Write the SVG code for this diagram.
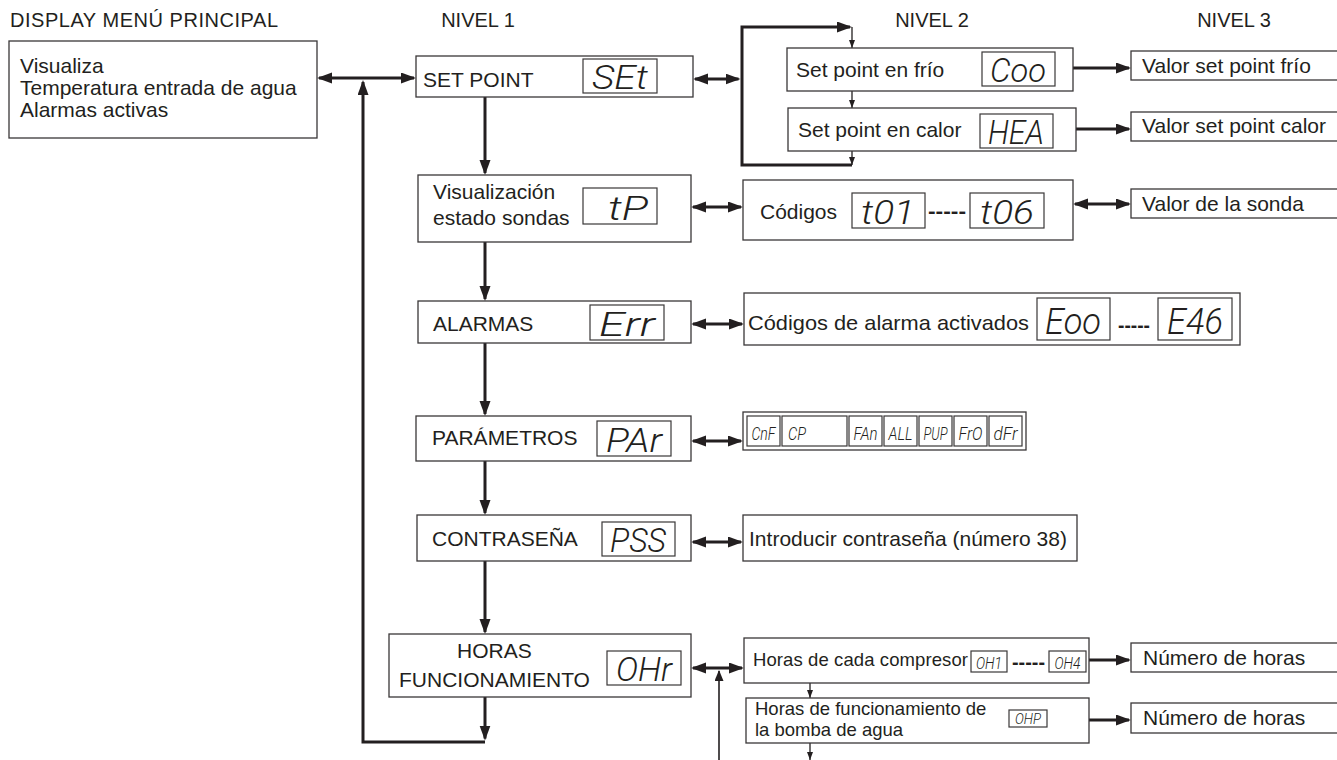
<svg xmlns="http://www.w3.org/2000/svg" width="1337" height="760" viewBox="0 0 1337 760">
<defs>
<marker id="ah" markerUnits="userSpaceOnUse" markerWidth="16" markerHeight="12" refX="13" refY="5.5" orient="auto-start-reverse"><path d="M0,0 L15,5.5 L0,11 z" fill="#231f20"/></marker>
<marker id="am" markerUnits="userSpaceOnUse" markerWidth="12" markerHeight="10" refX="10" refY="4.5" orient="auto"><path d="M0,0 L11,4.5 L0,9 z" fill="#231f20"/></marker>
<marker id="as" markerUnits="userSpaceOnUse" markerWidth="9" markerHeight="7" refX="8" refY="3" orient="auto"><path d="M0,0 L8,3 L0,6 z" fill="#231f20"/></marker>
<style>
.box{fill:#fff;stroke:#3a3738;stroke-width:1.3}
.sub{fill:none;stroke:#3a3738;stroke-width:1.2}
.t{font-family:"Liberation Sans",Arial,sans-serif;font-size:21px;fill:#231f20}
.ts{font-size:18.5px}
.h{font-size:20px}
.d{font-weight:bold}
.seg{font-family:Roboto,"DejaVu Sans",sans-serif;font-style:italic;font-weight:300;fill:#231f20;text-anchor:middle}
.c{fill:none;stroke:#231f20;stroke-width:3}
.c2{fill:none;stroke:#231f20;stroke-width:1.3}
</style>
</defs>
<rect width="1337" height="760" fill="#fff"/>

<g id="headings">
<text class="t h" x="10" y="27" textLength="268">DISPLAY MENÚ PRINCIPAL</text>
<text class="t h" x="478" y="27" text-anchor="middle">NIVEL 1</text>
<text class="t h" x="932" y="27" text-anchor="middle">NIVEL 2</text>
<text class="t h" x="1234" y="27" text-anchor="middle">NIVEL 3</text>
</g>

<g id="connectors">
<line class="c" x1="319" y1="78" x2="414" y2="78" marker-start="url(#ah)" marker-end="url(#ah)"/>
<path class="c" d="M485,742 L363,742 L363,82" marker-end="url(#ah)"/>
<path class="c" d="M485,97 V173" marker-end="url(#ah)"/>
<path class="c" d="M485,242 V299" marker-end="url(#ah)"/>
<path class="c" d="M485,343 V414" marker-end="url(#ah)"/>
<path class="c" d="M485,461 V513" marker-end="url(#ah)"/>
<path class="c" d="M485,561 V632" marker-end="url(#ah)"/>
<path class="c" d="M485,697 V738.5" marker-end="url(#ah)"/>
<line class="c" x1="695" y1="79" x2="738.5" y2="79" marker-start="url(#ah)" marker-end="url(#ah)"/>
<path class="c" d="M852,165 L742,165 L742,27 L850,27" marker-end="url(#ah)"/>
<path class="c2" d="M852,27 V48" marker-end="url(#as)"/>
<path class="c2" d="M852,91 V108" marker-end="url(#as)"/>
<path class="c2" d="M852,151 V165" marker-end="url(#as)"/>
<path class="c" d="M1073,68 H1129" marker-end="url(#ah)"/>
<path class="c" d="M1076,129 H1129" marker-end="url(#ah)"/>
<line class="c" x1="693" y1="207" x2="741" y2="207" marker-start="url(#ah)" marker-end="url(#ah)"/>
<line class="c" x1="1075" y1="204" x2="1129" y2="204" marker-start="url(#ah)" marker-end="url(#ah)"/>
<line class="c" x1="693" y1="324" x2="742" y2="324" marker-start="url(#ah)" marker-end="url(#ah)"/>
<line class="c" x1="693" y1="441" x2="741" y2="441" marker-start="url(#ah)" marker-end="url(#ah)"/>
<line class="c" x1="693" y1="542" x2="741" y2="542" marker-start="url(#ah)" marker-end="url(#ah)"/>
<line class="c" x1="693" y1="668" x2="742" y2="668" marker-start="url(#ah)" marker-end="url(#ah)"/>
<path class="c2" d="M719,760 V671" style="stroke-width:1.6" marker-end="url(#am)"/>
<path class="c" d="M1089,660 H1129" marker-end="url(#ah)"/>
<path class="c" d="M1089,720 H1129" marker-end="url(#ah)"/>
<path class="c2" d="M810,683 V698" marker-end="url(#as)"/>
<path class="c2" d="M810,743 V760" marker-end="url(#as)"/>
</g>

<g id="display">
<rect class="box" x="9" y="41" width="308" height="97"/>
<text class="t" x="20" y="73">Visualiza</text>
<text class="t" x="20" y="95">Temperatura entrada de agua</text>
<text class="t" x="20" y="117">Alarmas activas</text>
</g>

<g id="setpoint">
<rect class="box" x="416" y="56" width="277" height="41"/>
<text class="t" x="423" y="87">SET POINT</text>
<rect class="sub" x="583" y="59" width="74" height="34"/>
<text class="seg" x="620" y="89" font-size="34" textLength="56" lengthAdjust="spacingAndGlyphs">SEt</text>
</g>

<g id="frio">
<rect class="box" x="787" y="48" width="286" height="43"/>
<text class="t" x="796" y="77">Set point en frío</text>
<rect class="sub" x="982" y="52" width="73" height="34"/>
<text class="seg" x="1018" y="82" font-size="34" textLength="56" lengthAdjust="spacingAndGlyphs">Coo</text>
</g>

<g id="calor">
<rect class="box" x="788" y="108" width="288" height="43"/>
<text class="t" x="798" y="137">Set point en calor</text>
<rect class="sub" x="980" y="114" width="73" height="34"/>
<text class="seg" x="1016" y="144" font-size="34" textLength="56" lengthAdjust="spacingAndGlyphs">HEA</text>
</g>

<g id="valor-frio">
<rect class="box" x="1131" y="51" width="215" height="29"/>
<text class="t" x="1142" y="73">Valor set point frío</text>
</g>

<g id="valor-calor">
<rect class="box" x="1131" y="112" width="215" height="29"/>
<text class="t" x="1142" y="133">Valor set point calor</text>
</g>

<g id="visualizacion">
<rect class="box" x="418" y="175" width="273" height="67"/>
<text class="t" x="433" y="199">Visualización</text>
<text class="t" x="433" y="225">estado sondas</text>
<rect class="sub" x="583" y="188" width="74" height="36"/>
<text class="seg" x="628" y="220" font-size="34" textLength="40" lengthAdjust="spacingAndGlyphs">tP</text>
</g>

<g id="codigos">
<rect class="box" x="743" y="180" width="330" height="60"/>
<text class="t" x="760" y="219">Códigos</text>
<rect class="sub" x="852" y="193" width="73" height="35"/>
<text class="seg" x="888" y="224" font-size="34" textLength="54" lengthAdjust="spacingAndGlyphs">t01</text>
<text class="t d" x="928" y="218" textLength="38" lengthAdjust="spacingAndGlyphs">-----</text>
<rect class="sub" x="970" y="193" width="74" height="35"/>
<text class="seg" x="1007" y="224" font-size="34" textLength="54" lengthAdjust="spacingAndGlyphs">t06</text>
</g>

<g id="valor-sonda">
<rect class="box" x="1131" y="189" width="215" height="29"/>
<text class="t" x="1142" y="211">Valor de la sonda</text>
</g>

<g id="alarmas">
<rect class="box" x="418" y="301" width="273" height="42"/>
<text class="t" x="433" y="331">ALARMAS</text>
<rect class="sub" x="590" y="305" width="74" height="35"/>
<text class="seg" x="627" y="336" font-size="34" textLength="56" lengthAdjust="spacingAndGlyphs">Err</text>
</g>

<g id="codigos-alarma">
<rect class="box" x="744" y="293" width="496" height="52"/>
<text class="t" x="748" y="330" textLength="281" lengthAdjust="spacingAndGlyphs">Códigos de alarma activados</text>
<rect class="sub" x="1037" y="298" width="73" height="42"/>
<text class="seg" x="1073" y="334" font-size="36" textLength="56" lengthAdjust="spacingAndGlyphs">Eoo</text>
<text class="t d" x="1118" y="332" textLength="32" lengthAdjust="spacingAndGlyphs">-----</text>
<rect class="sub" x="1158" y="298" width="74" height="42"/>
<text class="seg" x="1195" y="334" font-size="36" textLength="56" lengthAdjust="spacingAndGlyphs">E46</text>
</g>

<g id="parametros">
<rect class="box" x="416" y="416" width="275" height="45"/>
<text class="t" x="432" y="445">PARÁMETROS</text>
<rect class="sub" x="597" y="421" width="74" height="35"/>
<text class="seg" x="634" y="452" font-size="34" textLength="56" lengthAdjust="spacingAndGlyphs">PAr</text>
</g>

<g id="codigos-parametros">
<rect class="box" x="743" y="412" width="283" height="38"/>
<rect class="sub" x="747" y="416" width="33" height="30"/>
<text class="seg" x="763.5" y="440" font-size="19" textLength="24" lengthAdjust="spacingAndGlyphs">CnF</text>
<rect class="sub" x="782" y="416" width="65" height="30"/>
<text class="seg" x="797" y="440" font-size="19" textLength="18" lengthAdjust="spacingAndGlyphs">CP</text>
<rect class="sub" x="849" y="416" width="33" height="30"/>
<text class="seg" x="865.5" y="440" font-size="19" textLength="24" lengthAdjust="spacingAndGlyphs">FAn</text>
<rect class="sub" x="884" y="416" width="33" height="30"/>
<text class="seg" x="900.5" y="440" font-size="19" textLength="24" lengthAdjust="spacingAndGlyphs">ALL</text>
<rect class="sub" x="919" y="416" width="33" height="30"/>
<text class="seg" x="935.5" y="440" font-size="19" textLength="24" lengthAdjust="spacingAndGlyphs">PUP</text>
<rect class="sub" x="954" y="416" width="33" height="30"/>
<text class="seg" x="970.5" y="440" font-size="19" textLength="24" lengthAdjust="spacingAndGlyphs">FrO</text>
<rect class="sub" x="989" y="416" width="33" height="30"/>
<text class="seg" x="1005.5" y="440" font-size="19" textLength="24" lengthAdjust="spacingAndGlyphs">dFr</text>
</g>

<g id="contrasena">
<rect class="box" x="417" y="515" width="274" height="46"/>
<text class="t" x="432" y="546">CONTRASEÑA</text>
<rect class="sub" x="602" y="522" width="73" height="34"/>
<text class="seg" x="638" y="552" font-size="34" textLength="56" lengthAdjust="spacingAndGlyphs">PSS</text>
</g>

<g id="introducir">
<rect class="box" x="743" y="515" width="334" height="46"/>
<text class="t" x="749" y="546" textLength="318">Introducir contraseña (número 38)</text>
</g>

<g id="horas">
<rect class="box" x="389" y="634" width="302" height="63"/>
<text class="t" x="457" y="658">HORAS</text>
<text class="t" x="399" y="687">FUNCIONAMIENTO</text>
<rect class="sub" x="607" y="651" width="74" height="34"/>
<text class="seg" x="644" y="681" font-size="34" textLength="56" lengthAdjust="spacingAndGlyphs">OHr</text>
</g>

<g id="horas-compresor">
<rect class="box" x="744" y="638" width="345" height="45"/>
<text class="t ts" x="753" y="666" textLength="215">Horas de cada compresor</text>
<rect class="sub" x="971" y="651" width="36" height="21"/>
<text class="seg" x="989" y="669" font-size="17" textLength="26" lengthAdjust="spacingAndGlyphs">OH1</text>
<text class="t d" x="1012" y="669" font-size="18" textLength="33" lengthAdjust="spacingAndGlyphs">-----</text>
<rect class="sub" x="1049" y="651" width="37" height="21"/>
<text class="seg" x="1067.5" y="669" font-size="17" textLength="26" lengthAdjust="spacingAndGlyphs">OH4</text>
</g>

<g id="numero-horas-1">
<rect class="box" x="1131" y="643" width="215" height="29"/>
<text class="t" x="1143" y="665">Número de horas</text>
</g>

<g id="horas-bomba">
<rect class="box" x="746" y="698" width="343" height="45"/>
<text class="t ts" x="755" y="715">Horas de funcionamiento de</text>
<text class="t ts" x="755" y="736">la bomba de agua</text>
<rect class="sub" x="1009" y="710" width="38" height="17"/>
<text class="seg" x="1028" y="724" font-size="15" textLength="26" lengthAdjust="spacingAndGlyphs">OHP</text>
</g>

<g id="numero-horas-2">
<rect class="box" x="1131" y="703" width="215" height="30"/>
<text class="t" x="1143" y="725">Número de horas</text>
</g>
</svg>
